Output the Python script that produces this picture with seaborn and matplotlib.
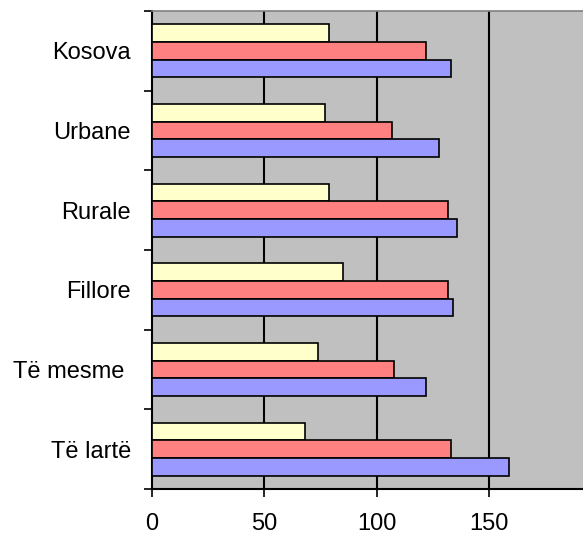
import numpy as np
import pandas as pd
import matplotlib
matplotlib.use('Agg')
import matplotlib.pyplot as plt
import seaborn as sns

categories = ['Kosova', 'Urbane', 'Rurale', 'Fillore', 'Të mesme ', 'Të lartë']
series = ['Seria 1', 'Seria 2', 'Seria 3']
vals_1 = [79, 77, 79, 85, 74, 68]
vals_2 = [122, 107, 132, 132, 108, 133]
vals_3 = [133, 128, 136, 134, 122, 159]
colors = ['#FFFFCC', '#FF8080', '#9999FF']

df = pd.DataFrame({
    'kategoria': categories * 3,
    'seria': [s for s in series for _ in categories],
    'vlera': vals_1 + vals_2 + vals_3,
})

sns.set_style('white')
plt.rcParams['font.family'] = ['Liberation Sans', 'DejaVu Sans']

fig = plt.figure(figsize=(5.83, 5.35), dpi=100)
ax = fig.add_axes([0.2602, 0.086, 1.0314 - 0.2602, 0.9794 - 0.086])
ax.set_facecolor('#C0C0C0')

sns.barplot(data=df, y='kategoria', x='vlera', hue='seria', order=categories,
            hue_order=series, palette=colors, saturation=1, width=0.667, orient='h',
            edgecolor='black', linewidth=1.2, legend=False, ax=ax, zorder=3)

ax.set_xlim(0, 200)
ax.set_ylim(len(categories) - 0.5, -0.5)
ax.set_xticks([0, 50, 100, 150, 200])
for xv in [50, 100, 150]:
    ax.axvline(xv, color='black', lw=1.5, zorder=1)

ax.set_yticks(np.arange(len(categories) + 1) - 0.5, minor=True)
ax.tick_params(axis='y', which='major', length=0, pad=15, labelsize=17, labelcolor='black')
ax.tick_params(axis='y', which='minor', length=6, width=1.2, color='black', direction='out', left=True)
ax.tick_params(axis='x', length=6, width=1.2, color='black', direction='out', bottom=True,
               pad=11, labelsize=17, labelcolor='black')

ax.set_xlabel('')
ax.set_ylabel('')
for side in ['left', 'bottom']:
    ax.spines[side].set_color('black')
    ax.spines[side].set_linewidth(1.5)
ax.spines['top'].set_color('#808080')
ax.spines['top'].set_linewidth(1.2)
ax.spines['right'].set_visible(False)

fig.savefig('out.png', dpi=100)
